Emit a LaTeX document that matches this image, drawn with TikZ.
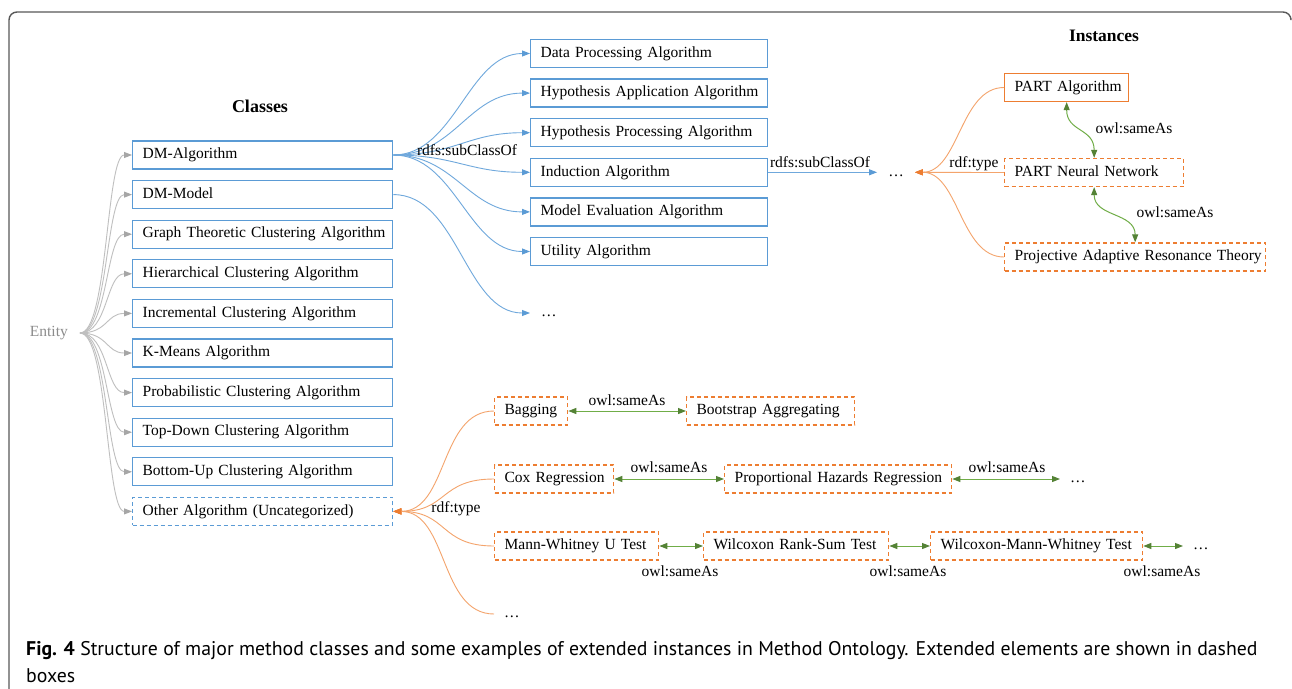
\documentclass[tikz,border=0pt]{standalone}
\usepackage{fontspec}
\setmainfont{Liberation Serif}
\newfontfamily\capfont{PT Sans}
\usetikzlibrary{arrows.meta}
\definecolor{cblue}{HTML}{5B9BD5}
\definecolor{lblue}{HTML}{6FA8DC}
\definecolor{corange}{HTML}{ED7D31}
\definecolor{lorange}{HTML}{F4A46C}
\definecolor{cgreen}{HTML}{548235}
\definecolor{lgreen}{HTML}{70AD47}
\definecolor{cgray}{HTML}{A6A6A6}
\definecolor{lgray}{HTML}{BFBFBF}
\definecolor{entgray}{HTML}{8C8C8C}
\definecolor{framegray}{HTML}{595959}
\begin{document}
\begin{tikzpicture}[x=1pt,y=-1pt,
  font=\fontsize{15.5}{18}\selectfont,
  every node/.style={inner sep=0pt},
  box/.style={line width=1.3pt, anchor=west, minimum height=28pt, text height=11pt, text depth=3.5pt, inner xsep=2pt, align=left, text width=#1, execute at begin node={\hspace*{8pt}}},
  clsbox/.style={box=256pt, draw=cblue},
  subbox/.style={box=#1, draw=cblue},
  instbox/.style={box=#1, draw=corange},
  extbox/.style={box=#1, draw=corange, dash pattern=on 4pt off 3pt},
  lbl/.style={text height=11pt, text depth=3.5pt},
  dotnode/.style={text height=11pt, text depth=3.5pt, inner xsep=#1},
  grayarr/.style={draw=lgray, line width=0.9pt, -{Triangle[length=8pt,width=6pt,color=cgray]}},
  bluearr/.style={draw=lblue, line width=0.9pt, -{Triangle[length=8pt,width=6pt,color=cblue]}},
  orangearr/.style={draw=lorange, line width=0.9pt, -{Triangle[length=8pt,width=6pt,color=corange]}},
  greenarr/.style={draw=lgreen, line width=1pt, {Triangle[length=8pt,width=6pt,color=cgreen]}-{Triangle[length=8pt,width=6pt,color=cgreen]}},
  title/.style={font=\fontsize{18}{20}\selectfont\bfseries}
]
\useasboundingbox (0,0) rectangle (1292,688);
\fill[white] (0,0) rectangle (1292,688);
\draw[framegray, line width=1.4pt, rounded corners=8pt] (9,700) -- (9,12) -- (1291,12) -- (1291,18);

% titles
\node[title] (tcls) at (260,106) {Classes};
\node[title, font=\fontsize{17.5}{20}\selectfont\bfseries] (tinst) at (1104,36) {Instances};

% Entity
\node[lbl, text=entgray, anchor=east] (entity) at (68,333) {Entity};
\coordinate (entR) at (80,333);

% class boxes
\node[clsbox] (c1) at (132,155) {DM-Algorithm};
\node[clsbox] (c2) at (132,194.6) {DM-Model};
\node[clsbox] (c3) at (132,234.2) {Graph Theoretic Clustering Algorithm};
\node[clsbox] (c4) at (132,273.8) {Hierarchical Clustering Algorithm};
\node[clsbox] (c5) at (132,313.4) {Incremental Clustering Algorithm};
\node[clsbox] (c6) at (132,353) {K-Means Algorithm};
\node[clsbox] (c7) at (132,392.6) {Probabilistic Clustering Algorithm};
\node[clsbox] (c8) at (132,432.2) {Top-Down Clustering Algorithm};
\node[clsbox] (c9) at (132,471.8) {Bottom-Up Clustering Algorithm};
\node[clsbox, dash pattern=on 4pt off 3pt] (c10) at (132,511.4) {Other Algorithm (Uncategorized)};

\foreach \i in {1,...,10}
  \draw[grayarr] (entR) .. controls +(28,0) and +(-26,0) .. (c\i.west);

% subclasses
\node[subbox=233pt] (s1) at (530,53.5) {Data Processing Algorithm};
\node[subbox=233pt] (s2) at (530,93.1) {Hypothesis Application Algorithm};
\node[subbox=233pt] (s3) at (530,132.7) {Hypothesis Processing Algorithm};
\node[subbox=233pt] (s4) at (530,172.3) {Induction Algorithm};
\node[subbox=233pt] (s5) at (530,211.9) {Model Evaluation Algorithm};
\node[subbox=233pt] (s6) at (530,251.5) {Utility Algorithm};
\node[dotnode=0pt, anchor=west] (dotsA) at (530,313) {\hspace*{11pt}\dots};

\foreach \j in {1,...,6}
  \draw[bluearr] (c1.east) .. controls +(62,0) and +(-62,0) .. (s\j.west);
\draw[bluearr] (c2.east) .. controls +(65,0) and +(-65,0) .. (dotsA.west);
\node[lbl] (lsub1) at (467,152) {rdfs:subClassOf};

% induction -> dots
\node[dotnode=11pt] (dotsB) at (896,172.3) {\dots};
\draw[bluearr] (s4.east) -- (dotsB.west);
\node[lbl] (lsub2) at (820,164) {rdfs:subClassOf};

% instances
\node[instbox=120pt] (pa) at (1004,87.5) {PART Algorithm};
\node[extbox=175pt] (pnn) at (1004,172.5) {PART Neural Network};
\node[extbox=257pt] (proj) at (1004,257) {Projective Adaptive Resonance Theory};
\foreach \n in {pa,pnn,proj}
  \draw[orangearr] (\n.west) .. controls +(-44,0) and +(44,0) .. (dotsB.east);
\node[lbl] (ltype1) at (974,164) {rdf:type};
\draw[greenarr] (pa.south) .. controls +(0,30) and +(0,-30) .. (pnn.north);
\draw[greenarr] (pnn.south) .. controls +(0,30) and +(0,-30) .. (proj.north);
\node[lbl] (lsame1) at (1134,130) {owl:sameAs};
\node[lbl] (lsame2) at (1175,214) {owl:sameAs};

% extended instances of Other Algorithm
\node[extbox=69pt] (bag) at (494,411) {Bagging};
\node[extbox=164pt] (boot) at (686,411) {Bootstrap Aggregating};
\node[extbox=115pt] (cox) at (494,479) {Cox Regression};
\node[extbox=223pt] (ph) at (724,479) {Proportional Hazards Regression};
\node[dotnode=0pt, anchor=west] (dotsC) at (1060,479) {\hspace*{10pt}\dots};
\node[extbox=160pt] (mw) at (494,546) {Mann-Whitney U Test};
\node[extbox=181pt] (wrs) at (703,546) {Wilcoxon Rank-Sum Test};
\node[extbox=208pt] (wmw) at (930,546) {Wilcoxon-Mann-Whitney Test};
\node[dotnode=0pt, anchor=west] (dotsD) at (1183,546) {\hspace*{10pt}\dots};
\node[dotnode=0pt, anchor=west] (dotsE) at (494,614) {\hspace*{10pt}\dots};

\foreach \n in {bag,cox,mw,dotsE}
  \draw[orangearr] (\n.west) .. controls +(-55,0) and +(55,0) .. (c10.east);
\node[lbl] (ltype2) at (456,509) {rdf:type};

\draw[greenarr] (bag.east) -- (boot.west);
\draw[greenarr] (cox.east) -- (ph.west);
\draw[greenarr] (ph.east) -- (dotsC.west);
\draw[greenarr] (mw.east) -- (wrs.west);
\draw[greenarr] (wrs.east) -- (wmw.west);
\draw[greenarr] (wmw.east) -- (dotsD.west);
\node[lbl] (lsame3) at (627,402) {owl:sameAs};
\node[lbl] (lsame4) at (669,469) {owl:sameAs};
\node[lbl] (lsame5) at (1007,469) {owl:sameAs};
\node[lbl] (lsame6) at (680,573) {owl:sameAs};
\node[lbl] (lsame7) at (908,573) {owl:sameAs};
\node[lbl] (lsame8) at (1162,573) {owl:sameAs};

% caption
\node[anchor=west, align=left, font=\capfont\fontsize{19.8}{27}\selectfont] (cap) at (26,662.5)
  {\textbf{Fig. 4} Structure of major method classes and some examples of extended instances in Method Ontology. Extended elements are shown in dashed\\boxes};
\end{tikzpicture}
\end{document}
